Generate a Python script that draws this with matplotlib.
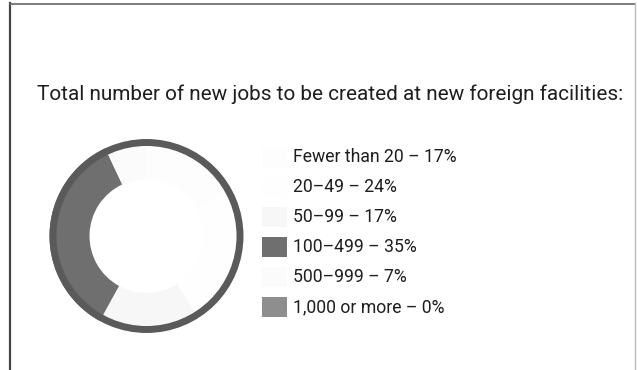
import matplotlib.pyplot as plt
from matplotlib.patches import Rectangle, Circle

# data
labels = ['Fewer than 20', '20\u201349', '50\u201399', '100\u2013499', '500\u2013999', '1,000 or more']
shares = [17, 24, 17, 35, 7, 0]
colors = ['#fdfdfd', '#fefefe', '#f7f7f7', '#6f6f6f', '#fbfbfb', '#8e8e8e']
title = 'Total number of new jobs to be created at new foreign facilities:'

W, H = 637, 370
fam = ['Roboto', 'DejaVu Sans']

fig = plt.figure(figsize=(W / 100, H / 100), dpi=100)
ax = fig.add_axes([0, 0, 1, 1])


def py(y):
    # pixel row (from top) -> data y
    return H - y


def fit(t, width):
    # scale a text's font size so it spans about `width` pixels
    fig.canvas.draw()
    w = t.get_window_extent().width
    t.set_fontsize(t.get_fontsize() * width / w)


# donut
cx, cy, r = 146.5, py(236), 97
ax.pie(shares, colors=colors, radius=r, center=(cx, cy), startangle=90,
       counterclock=False, wedgeprops=dict(width=40, linewidth=0))
ax.add_patch(Circle((cx, cy), r - 3.5, fill=False, edgecolor='#5a5a5a', linewidth=5))

# legend
for i, (lab, val, col) in enumerate(zip(labels, shares, colors)):
    base = 162 + 30 * i
    ax.add_patch(Rectangle((262, py(base + 5)), 25, 20, facecolor=col, edgecolor='none'))
    t = ax.text(293, py(base), f'{lab} \u2013 {val}%', fontsize=13, family=fam,
                va='baseline', ha='left', color='#1e1e1e')
    if i == 0:
        fit(t, 164)
        legend_size = t.get_fontsize()
    else:
        t.set_fontsize(legend_size)

tt = ax.text(37, py(100), title, fontsize=15, family=fam, va='baseline', ha='left',
             color='#1e1e1e')

# frame
ax.plot([10, 10], [py(3), py(370)], color='#444444', linewidth=1.6)
ax.plot([10, 635], [py(3.5), py(3.5)], color='#666666', linewidth=1.2)
ax.plot([635, 635], [py(3), py(370)], color='#bbbbbb', linewidth=1)

ax.set_xlim(0, W)
ax.set_ylim(0, H)
ax.set_aspect('equal')
ax.axis('off')

fit(tt, 588)

fig.savefig('out.png', dpi=100)
